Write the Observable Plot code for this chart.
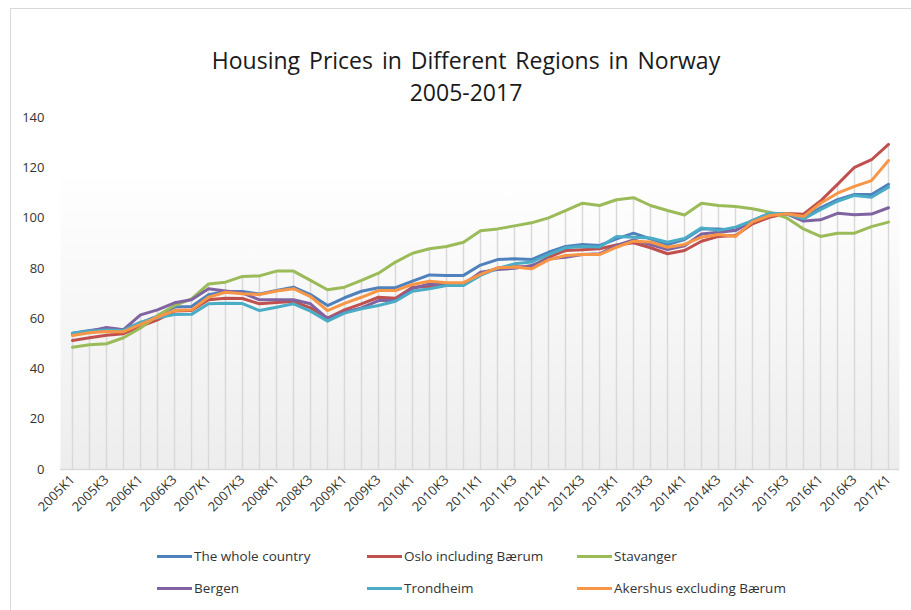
<!DOCTYPE html>
<html>
<head>
<meta charset="utf-8">
<script src="https://cdn.jsdelivr.net/npm/d3@7"></script>
<script src="https://cdn.jsdelivr.net/npm/@observablehq/plot@0.6"></script>
<style>
  html, body { margin: 0; padding: 0; background: #fff; }
  body { width: 911px; height: 610px; overflow: hidden; position: relative; font-family: "Open Sans", sans-serif; }
  #frame { position: absolute; left: 10px; top: 8px; width: 1000px; height: 700px; border: 1px solid #d9d9d9; }
  #title { position: absolute; left: 0; top: 44px; width: 932px; text-align: center; font-size: 23px; line-height: 32px; color: #1a1a1a; word-spacing: 3px; }
  #chart { position: absolute; left: 0; top: 100px; }
  .leg { position: absolute; font-size: 13.5px; color: #333; line-height: 18px; white-space: nowrap; }
  .leg .sw { display: inline-block; width: 35px; height: 3px; vertical-align: middle; margin-right: 2px; position: relative; top: -1px; }
</style>
</head>
<body>
<div id="frame"></div>
<div id="title">Housing Prices in Different Regions in Norway<br>2005-2017</div>
<div id="chart"></div>
<div id="legend"></div>
<script>
const quarters = [
  "2005K1","2005K2","2005K3","2005K4","2006K1","2006K2","2006K3","2006K4",
  "2007K1","2007K2","2007K3","2007K4","2008K1","2008K2","2008K3","2008K4",
  "2009K1","2009K2","2009K3","2009K4","2010K1","2010K2","2010K3","2010K4",
  "2011K1","2011K2","2011K3","2011K4","2012K1","2012K2","2012K3","2012K4",
  "2013K1","2013K2","2013K3","2013K4","2014K1","2014K2","2014K3","2014K4",
  "2015K1","2015K2","2015K3","2015K4","2016K1","2016K2","2016K3","2016K4",
  "2017K1"
];
const tickLabels = [
  "2005K1","2005K3","2006K1","2006K3","2007K1","2007K3","2008K1","2008K3",
  "2009K1","2009K3","2010K1","2010K3","2011K1","2011K3","2012K1","2012K3",
  "2013K1","2013K3","2014K1","2014K3","2015K1","2015K3","2016K1","2016K3","2017K1"
];
const yTicks = [0, 20, 40, 60, 80, 100, 120, 140];

const wholeCountry = [54.2,55.3,56.0,55.6,58.3,61.0,64.6,64.8,69.5,70.8,70.8,69.8,71.2,72.5,69.6,65.2,
  68.3,70.9,72.3,72.3,74.9,77.4,77.2,77.2,81.3,83.5,83.8,83.5,86.4,88.7,89.5,89.1,
  91.7,94.0,91.7,89.5,91.5,95.8,95.7,95.1,99.0,101.9,101.7,100.2,104.1,107.3,109.4,109.4,113.4];
const osloInclBaerum = [51.3,52.4,53.4,54.0,56.9,59.5,63.0,63.2,67.5,68.1,68.0,65.9,66.4,66.8,64.3,60.2,
  63.5,65.9,68.5,68.1,72.5,72.8,73.8,74.0,78.0,80.0,80.6,80.5,84.5,87.1,87.4,87.8,
  89.3,90.2,88.2,85.8,87.1,90.8,92.7,93.1,97.7,100.3,101.8,101.5,106.8,113.4,120.2,123.2,129.3];
const stavanger = [48.6,49.6,50.0,52.4,56.3,61.2,65.2,67.9,73.8,74.5,76.8,77.0,78.9,78.9,75.2,71.5,
  72.5,75.2,78.1,82.5,86.0,87.8,88.7,90.4,95.0,95.7,96.9,98.1,100.1,103.0,105.9,105.0,
  107.3,108.1,105.0,103.0,101.2,105.9,105.0,104.6,103.7,102.3,100.1,95.7,92.7,94.0,94.0,96.6,98.4];
const bergen = [54.0,55.0,56.5,55.6,61.5,63.5,66.3,67.5,71.9,71.0,70.2,67.5,67.5,67.5,65.9,60.0,
  62.6,64.3,67.2,67.2,72.0,73.8,73.6,73.6,78.5,79.5,80.0,81.1,83.8,84.4,85.5,85.8,
  89.1,91.3,89.5,87.5,89.0,93.7,94.4,95.1,99.0,101.5,101.7,98.8,99.3,101.9,101.3,101.6,104.1];
const trondheim = [54.2,55.0,55.5,55.3,58.6,60.3,61.6,61.7,65.9,66.1,66.0,63.2,64.5,65.9,63.0,59.0,
  62.2,63.9,65.2,66.9,70.9,71.9,73.2,73.2,77.2,80.0,81.8,82.5,85.5,88.2,88.7,88.5,
  92.7,92.4,92.1,90.4,91.9,96.1,95.1,96.4,99.0,101.9,101.7,99.7,103.3,106.7,109.0,108.3,112.3];
const akershusExclBaerum = [53.3,54.4,54.9,54.8,57.7,60.6,63.2,63.5,68.5,70.5,69.9,69.6,71.0,71.9,68.8,63.2,
  66.1,68.5,71.2,71.2,73.6,74.9,74.3,74.3,77.6,80.2,80.5,79.8,83.4,85.1,85.5,85.5,
  88.4,90.8,90.5,88.4,89.5,92.4,93.5,92.7,98.5,101.0,101.7,100.6,105.9,109.9,112.6,114.9,122.9];

const seriesNames = ["The whole country","Oslo including Bærum","Stavanger","Bergen","Trondheim","Akershus excluding Bærum"];
const seriesValues = [wholeCountry, osloInclBaerum, stavanger, bergen, trondheim, akershusExclBaerum];
const seriesColors = ["#4F81BD","#C0504D","#9BBB59","#8064A2","#4BACC6","#F79646"];

const rows = [];
seriesNames.forEach((name, s) => {
  quarters.forEach((q, i) => rows.push({quarter: q, value: seriesValues[s][i], series: name}));
});
const drops = quarters.map((q, i) => ({quarter: q, top: d3.max(seriesValues, a => a[i])}));

const defs = () => {
  const g = d3.create("svg:defs");
  const lg = g.append("linearGradient").attr("id", "plotGrad").attr("x1", 0).attr("y1", 0).attr("x2", 0).attr("y2", 1);
  lg.append("stop").attr("offset", "0%").attr("stop-color", "#ffffff");
  lg.append("stop").attr("offset", "15%").attr("stop-color", "#ffffff");
  lg.append("stop").attr("offset", "100%").attr("stop-color", "#ededed");
  return g.node();
};

const chart = Plot.plot({
  width: 911,
  height: 430,
  marginLeft: 60,
  marginRight: 12,
  marginTop: 17,
  marginBottom: 61,
  style: {fontFamily: "Open Sans", fontSize: "13px", color: "#333", background: "transparent"},
  x: {type: "point", domain: quarters, padding: 0.5, label: null},
  y: {domain: [0, 140], label: null},
  color: {domain: seriesNames, range: seriesColors},
  marks: [
    defs,
    Plot.frame({fill: "url(#plotGrad)", stroke: "none"}),
    Plot.ruleX(drops, {x: "quarter", y1: 0, y2: "top", stroke: "#d9d9d9", strokeWidth: 1.5}),
    Plot.ruleY([0], {stroke: "#d9d9d9", strokeWidth: 1.5}),
    Plot.lineY(rows, {x: "quarter", y: "value", z: "series", stroke: "series", strokeWidth: 3, strokeLinejoin: "round"}),
    Plot.axisY({ticks: yTicks, tickSize: 0, tickPadding: 16, fontSize: 13, label: null}),
    Plot.axisX({ticks: tickLabels, tickSize: 0, tickRotate: -45, tickPadding: 8, fontSize: 13, label: null})
  ]
});
document.getElementById("chart").appendChild(chart);

// legend
const legend = document.getElementById("legend");
const legPos = [[157, 547], [367, 547], [577, 547], [157, 579], [367, 579], [577, 579]];
seriesNames.forEach((name, i) => {
  const d = document.createElement("div");
  d.className = "leg";
  d.style.left = legPos[i][0] + "px";
  d.style.top = legPos[i][1] + "px";
  d.innerHTML = `<span class="sw" style="background:${seriesColors[i]}"></span>${name}`;
  legend.appendChild(d);
});
</script>
</body>
</html>
